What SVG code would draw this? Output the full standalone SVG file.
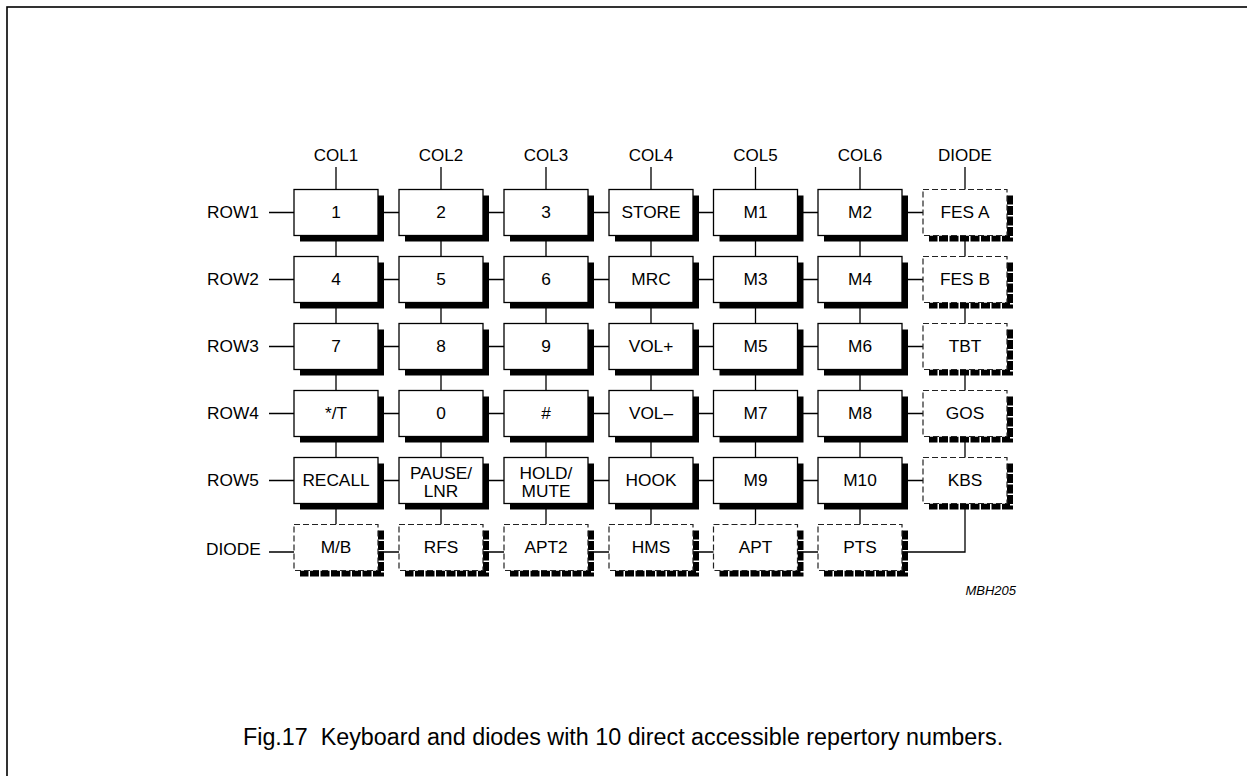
<svg xmlns="http://www.w3.org/2000/svg" width="1247" height="776" viewBox="0 0 1247 776">
<style>
text{font-family:"Liberation Sans",Arial,sans-serif;fill:#000}
.t{font-size:17.3px;text-anchor:middle}
.l{font-size:17.3px}
.c{font-size:17px;text-anchor:middle}
.k{fill:#fff;stroke:#000;stroke-width:1.3}
.s{fill:#000}
.d{fill:#fff;stroke:#222;stroke-width:1.2;stroke-dasharray:6 3}
.ds{fill:none;stroke:#000;stroke-width:6;stroke-dasharray:9 1.5}
.w{fill:none;stroke:#000;stroke-width:1.3}
</style>
<rect x="7" y="7" width="1300" height="850" fill="none" stroke="#000" stroke-width="1.6"/>
<g id="labels">
<text class="c" x="336" y="161">COL1</text>
<text class="c" x="441" y="161">COL2</text>
<text class="c" x="546" y="161">COL3</text>
<text class="c" x="651" y="161">COL4</text>
<text class="c" x="755.5" y="161">COL5</text>
<text class="c" x="860" y="161">COL6</text>
<text class="c" x="965" y="161">DIODE</text>
<text class="l" x="207" y="218">ROW1</text>
<text class="l" x="207" y="285">ROW2</text>
<text class="l" x="207" y="352">ROW3</text>
<text class="l" x="207" y="419">ROW4</text>
<text class="l" x="207" y="486">ROW5</text>
<text class="l" x="206" y="555">DIODE</text>
<text x="1016" y="595" font-size="13" font-style="italic" text-anchor="end">MBH205</text>
<text x="243" y="745" font-size="23.3" xml:space="preserve">Fig.17  Keyboard and diodes with 10 direct accessible repertory numbers.</text>
</g>
<g id="connectors" class="w">
<path d="M269 212.5H923M269 279.5H923M269 346.5H923M269 413.5H923M269 480.5H923M269 552H902"/>
<path d="M336 167V524.5M441 167V524.5M546 167V524.5M651 167V524.5M755.5 167V524.5M860 167V524.5M965 167V552H902"/>
</g>
<g id="k1"><rect class="s" x="300" y="195.5" width="84" height="46"/><rect class="k" x="294" y="189.5" width="84" height="46"/><text class="t" x="336" y="218">1</text></g>
<g id="k2"><rect class="s" x="405" y="195.5" width="84" height="46"/><rect class="k" x="399" y="189.5" width="84" height="46"/><text class="t" x="441" y="218">2</text></g>
<g id="k3"><rect class="s" x="510" y="195.5" width="84" height="46"/><rect class="k" x="504" y="189.5" width="84" height="46"/><text class="t" x="546" y="218">3</text></g>
<g id="kstore"><rect class="s" x="615" y="195.5" width="84" height="46"/><rect class="k" x="609" y="189.5" width="84" height="46"/><text class="t" x="651" y="218">STORE</text></g>
<g id="km1"><rect class="s" x="719.5" y="195.5" width="84" height="46"/><rect class="k" x="713.5" y="189.5" width="84" height="46"/><text class="t" x="755.5" y="218">M1</text></g>
<g id="km2"><rect class="s" x="824" y="195.5" width="84" height="46"/><rect class="k" x="818" y="189.5" width="84" height="46"/><text class="t" x="860" y="218">M2</text></g>
<g id="dfesa"><path class="ds" d="M1010 195.5V238.5H929"/><rect class="d" x="923" y="189.5" width="84" height="46"/><text class="t" x="965" y="218">FES A</text></g>

<g id="k4"><rect class="s" x="300" y="262.5" width="84" height="46"/><rect class="k" x="294" y="256.5" width="84" height="46"/><text class="t" x="336" y="285">4</text></g>
<g id="k5"><rect class="s" x="405" y="262.5" width="84" height="46"/><rect class="k" x="399" y="256.5" width="84" height="46"/><text class="t" x="441" y="285">5</text></g>
<g id="k6"><rect class="s" x="510" y="262.5" width="84" height="46"/><rect class="k" x="504" y="256.5" width="84" height="46"/><text class="t" x="546" y="285">6</text></g>
<g id="kmrc"><rect class="s" x="615" y="262.5" width="84" height="46"/><rect class="k" x="609" y="256.5" width="84" height="46"/><text class="t" x="651" y="285">MRC</text></g>
<g id="km3"><rect class="s" x="719.5" y="262.5" width="84" height="46"/><rect class="k" x="713.5" y="256.5" width="84" height="46"/><text class="t" x="755.5" y="285">M3</text></g>
<g id="km4"><rect class="s" x="824" y="262.5" width="84" height="46"/><rect class="k" x="818" y="256.5" width="84" height="46"/><text class="t" x="860" y="285">M4</text></g>
<g id="dfesb"><path class="ds" d="M1010 262.5V305.5H929"/><rect class="d" x="923" y="256.5" width="84" height="46"/><text class="t" x="965" y="285">FES B</text></g>

<g id="k7"><rect class="s" x="300" y="329.5" width="84" height="46"/><rect class="k" x="294" y="323.5" width="84" height="46"/><text class="t" x="336" y="352">7</text></g>
<g id="k8"><rect class="s" x="405" y="329.5" width="84" height="46"/><rect class="k" x="399" y="323.5" width="84" height="46"/><text class="t" x="441" y="352">8</text></g>
<g id="k9"><rect class="s" x="510" y="329.5" width="84" height="46"/><rect class="k" x="504" y="323.5" width="84" height="46"/><text class="t" x="546" y="352">9</text></g>
<g id="kvolp"><rect class="s" x="615" y="329.5" width="84" height="46"/><rect class="k" x="609" y="323.5" width="84" height="46"/><text class="t" x="651" y="352">VOL+</text></g>
<g id="km5"><rect class="s" x="719.5" y="329.5" width="84" height="46"/><rect class="k" x="713.5" y="323.5" width="84" height="46"/><text class="t" x="755.5" y="352">M5</text></g>
<g id="km6"><rect class="s" x="824" y="329.5" width="84" height="46"/><rect class="k" x="818" y="323.5" width="84" height="46"/><text class="t" x="860" y="352">M6</text></g>
<g id="dtbt"><path class="ds" d="M1010 329.5V372.5H929"/><rect class="d" x="923" y="323.5" width="84" height="46"/><text class="t" x="965" y="352">TBT</text></g>

<g id="kstar"><rect class="s" x="300" y="396.5" width="84" height="46"/><rect class="k" x="294" y="390.5" width="84" height="46"/><text class="t" x="336" y="419">*/T</text></g>
<g id="k0"><rect class="s" x="405" y="396.5" width="84" height="46"/><rect class="k" x="399" y="390.5" width="84" height="46"/><text class="t" x="441" y="419">0</text></g>
<g id="khash"><rect class="s" x="510" y="396.5" width="84" height="46"/><rect class="k" x="504" y="390.5" width="84" height="46"/><text class="t" x="546" y="419">#</text></g>
<g id="kvolm"><rect class="s" x="615" y="396.5" width="84" height="46"/><rect class="k" x="609" y="390.5" width="84" height="46"/><text class="t" x="651" y="419">VOL–</text></g>
<g id="km7"><rect class="s" x="719.5" y="396.5" width="84" height="46"/><rect class="k" x="713.5" y="390.5" width="84" height="46"/><text class="t" x="755.5" y="419">M7</text></g>
<g id="km8"><rect class="s" x="824" y="396.5" width="84" height="46"/><rect class="k" x="818" y="390.5" width="84" height="46"/><text class="t" x="860" y="419">M8</text></g>
<g id="dgos"><path class="ds" d="M1010 396.5V439.5H929"/><rect class="d" x="923" y="390.5" width="84" height="46"/><text class="t" x="965" y="419">GOS</text></g>

<g id="krecall"><rect class="s" x="300" y="463.5" width="84" height="46"/><rect class="k" x="294" y="457.5" width="84" height="46"/><text class="t" x="336" y="486">RECALL</text></g>
<g id="kpause"><rect class="s" x="405" y="463.5" width="84" height="46"/><rect class="k" x="399" y="457.5" width="84" height="46"/><text class="t" x="441" y="478.5">PAUSE/</text><text class="t" x="441" y="497">LNR</text></g>
<g id="khold"><rect class="s" x="510" y="463.5" width="84" height="46"/><rect class="k" x="504" y="457.5" width="84" height="46"/><text class="t" x="546" y="478.5">HOLD/</text><text class="t" x="546" y="497">MUTE</text></g>
<g id="khook"><rect class="s" x="615" y="463.5" width="84" height="46"/><rect class="k" x="609" y="457.5" width="84" height="46"/><text class="t" x="651" y="486">HOOK</text></g>
<g id="km9"><rect class="s" x="719.5" y="463.5" width="84" height="46"/><rect class="k" x="713.5" y="457.5" width="84" height="46"/><text class="t" x="755.5" y="486">M9</text></g>
<g id="km10"><rect class="s" x="824" y="463.5" width="84" height="46"/><rect class="k" x="818" y="457.5" width="84" height="46"/><text class="t" x="860" y="486">M10</text></g>
<g id="dkbs"><path class="ds" d="M1010 463.5V506.5H929"/><rect class="d" x="923" y="457.5" width="84" height="46"/><text class="t" x="965" y="486">KBS</text></g>

<g id="dmb"><path class="ds" d="M381 530.5V573.5H300"/><rect class="d" x="294" y="524.5" width="84" height="46"/><text class="t" x="336" y="553">M/B</text></g>
<g id="drfs"><path class="ds" d="M486 530.5V573.5H405"/><rect class="d" x="399" y="524.5" width="84" height="46"/><text class="t" x="441" y="553">RFS</text></g>
<g id="dapt2"><path class="ds" d="M591 530.5V573.5H510"/><rect class="d" x="504" y="524.5" width="84" height="46"/><text class="t" x="546" y="553">APT2</text></g>
<g id="dhms"><path class="ds" d="M696 530.5V573.5H615"/><rect class="d" x="609" y="524.5" width="84" height="46"/><text class="t" x="651" y="553">HMS</text></g>
<g id="dapt"><path class="ds" d="M800.5 530.5V573.5H719.5"/><rect class="d" x="713.5" y="524.5" width="84" height="46"/><text class="t" x="755.5" y="553">APT</text></g>
<g id="dpts"><path class="ds" d="M905 530.5V573.5H824"/><rect class="d" x="818" y="524.5" width="84" height="46"/><text class="t" x="860" y="553">PTS</text></g>
</svg>
